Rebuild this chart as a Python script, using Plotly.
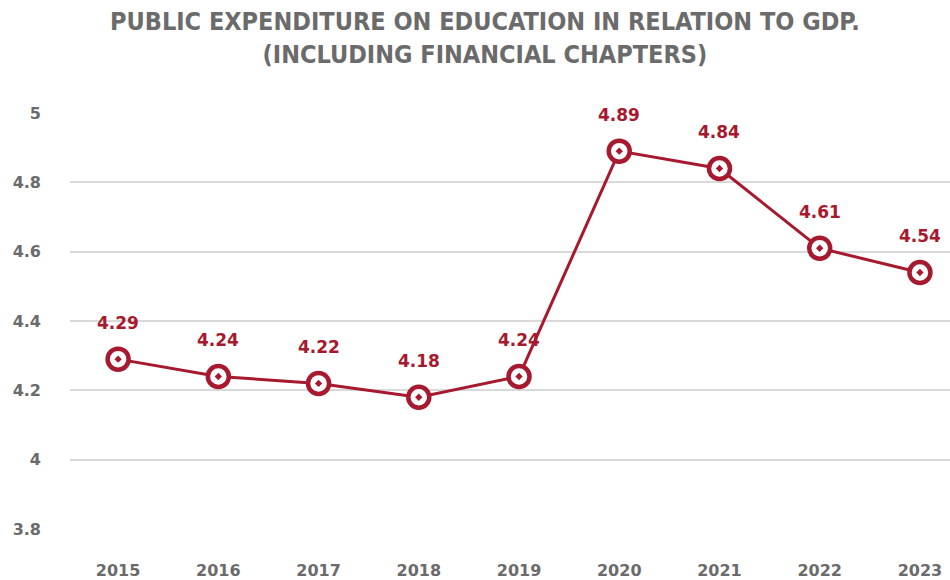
import plotly.graph_objects as go

years = ["2015", "2016", "2017", "2018", "2019", "2020", "2021", "2022", "2023"]
spending_pct_gdp = [4.29, 4.24, 4.22, 4.18, 4.24, 4.89, 4.84, 4.61, 4.54]
y_ticks = [3.8, 4.0, 4.2, 4.4, 4.6, 4.8, 5.0]
y_tick_labels = ["3.8", "4", "4.2", "4.4", "4.6", "4.8", "5"]

RED = "#A6192E"
GREY = "#6b6b6b"
TICK_FONT = dict(family="DejaVu Sans", size=16, color=GREY, weight="bold")

x_pos = list(range(len(years)))

fig = go.Figure(
    go.Scatter(
        x=x_pos,
        y=spending_pct_gdp,
        mode="lines+markers",
        line=dict(color=RED, width=3),
        marker=dict(symbol="circle-dot", size=21, color="white",
                    line=dict(color=RED, width=4.5)),
        cliponaxis=False,
        showlegend=False,
    )
)

# value labels above each point
for xi, v in zip(x_pos, spending_pct_gdp):
    fig.add_annotation(
        x=xi, y=v, text=f"{v:.2f}", showarrow=False,
        yshift=36, xanchor="center", yanchor="middle",
        font=dict(family="DejaVu Sans", size=17, color=RED, weight="bold"),
    )

# two-line title, centred on the page rather than the plot area
fig.add_annotation(
    text="PUBLIC EXPENDITURE ON EDUCATION IN RELATION TO GDP.<br>(INCLUDING FINANCIAL CHAPTERS)",
    xref="paper", yref="paper", x=0.4716, y=1, yshift=108,
    xanchor="center", yanchor="top", showarrow=False,
    font=dict(family="DejaVu Sans Condensed", size=25, color=GREY, weight="bold"),
)

fig.update_layout(
    width=950,
    height=580,
    margin=dict(l=70, r=0, t=113, b=47),
    paper_bgcolor="white",
    plot_bgcolor="white",
    xaxis=dict(
        tickmode="array",
        tickvals=x_pos,
        ticktext=years,
        range=[-0.48, 8.3],
        showgrid=False,
        zeroline=False,
        showline=False,
        ticks="",
        tickfont=TICK_FONT,
        ticklabelstandoff=30,
    ),
    yaxis=dict(
        range=[3.8, 5.0],
        tickmode="array",
        tickvals=y_ticks,
        ticktext=y_tick_labels,
        showgrid=True,
        gridcolor="#d9d9d9",
        gridwidth=2,
        zeroline=False,
        showline=False,
        ticks="",
        tickfont=TICK_FONT,
        ticklabelstandoff=28,
    ),
)

fig.write_html("out.html")
